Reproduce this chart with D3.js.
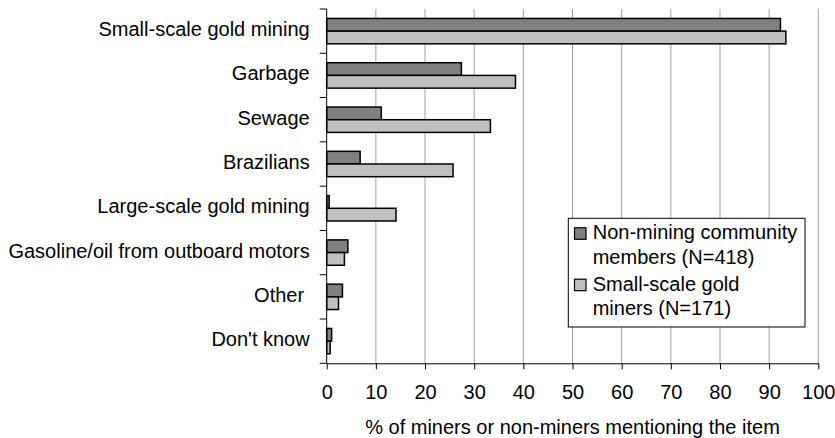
<!DOCTYPE html>
<html><head><meta charset="utf-8">
<script src="https://cdn.jsdelivr.net/npm/d3@7"></script>
<style>
body{margin:0;background:#fff;}
svg text{font-family:"Liberation Sans",Arial,sans-serif;fill:#000;}
</style></head>
<body>
<svg id="c" width="835" height="438"></svg>
<script>
const categories = ["Small-scale gold mining","Garbage","Sewage","Brazilians","Large-scale gold mining","Gasoline/oil from outboard motors","Other ","Don't know"];
const seriesNames = ["Non-mining community members (N=418)","Small-scale gold miners (N=171)"];
const legendLines = [["Non-mining community","members (N=418)"],["Small-scale gold","miners (N=171)"]];
const nonMiners = [92.3, 27.4, 11.1, 6.8, 0.5, 4.3, 3.2, 1.0];
const miners    = [93.4, 38.4, 33.3, 25.7, 14.1, 3.6, 2.4, 0.7];
const xTicks = [0,10,20,30,40,50,60,70,80,90,100];
const colors = ["#808080","#c0c0c0"];
const xTitle = "% of miners or non-miners mentioning the item";

const svg = d3.select("#c");
const L = 326.7, R = 818.3, T = 9, B = 363.3;
const x = d3.scaleLinear().domain([0,100]).range([L,R]);
const y = d3.scaleBand().domain(categories).range([T,B]).padding(0);
const yi = d3.scaleBand().domain([0,1]).range([0,y.bandwidth()]).paddingInner(0).paddingOuter(0.745);

// gridlines
svg.append("g").selectAll("line").data(xTicks.filter(d=>d>0)).join("line")
  .attr("x1",d=>x(d)).attr("x2",d=>x(d)).attr("y1",T).attr("y2",B)
  .attr("stroke","#a0a0a0").attr("stroke-width",1);

// bars
const g = svg.append("g");
categories.forEach((c,i)=>{
  [nonMiners[i], miners[i]].forEach((v,s)=>{
    g.append("rect")
      .attr("x",x(0)).attr("y",y(c)+yi(s))
      .attr("width",x(v)-x(0)).attr("height",yi.bandwidth())
      .attr("fill",colors[s]).attr("stroke","#000").attr("stroke-width",1.5);
  });
});

// y axis
svg.append("line").attr("x1",L).attr("x2",L).attr("y1",T).attr("y2",B).attr("stroke","#000").attr("stroke-width",1);
const yTickPos = categories.map(c=>y(c)).concat([B]);
svg.append("g").selectAll("line").data(yTickPos).join("line")
  .attr("x1",L-7).attr("x2",L).attr("y1",d=>d).attr("y2",d=>d).attr("stroke","#000");
svg.append("g").selectAll("text").data(categories).join("text")
  .attr("x",L-17).attr("y",c=>y(c)+y.bandwidth()/2).attr("dy","0.25em")
  .attr("text-anchor","end").style("white-space","pre").attr("font-size",20)
  .text(d=>d);

// x axis
const xa = svg.append("g").attr("transform",`translate(0,${B})`)
  .call(d3.axisBottom(x).tickValues(xTicks).tickSize(6).tickSizeOuter(0).tickPadding(15.5));
xa.select(".domain").attr("stroke","#000");
xa.selectAll(".tick line").attr("stroke","#000");
xa.selectAll(".tick text").attr("font-size",20).attr("font-family","Liberation Sans, Arial, sans-serif").attr("fill","#000");

svg.append("text").attr("x",(L+R)/2).attr("y",433.5)
  .attr("text-anchor","middle").attr("font-size",20).text(xTitle);

// legend
const lg = svg.append("g");
lg.append("rect").attr("x",568.3).attr("y",218.3).attr("width",236.7).attr("height",108.7)
  .attr("fill","#fff").attr("stroke","#000").attr("stroke-width",1);
legendLines.forEach((lines,s)=>{
  const by = 239.3 + s*51.4;
  lg.append("rect").attr("x",574.5).attr("y",by-11.5).attr("width",11.5).attr("height",11.5)
    .attr("fill",colors[s]).attr("stroke","#000").attr("stroke-width",1.2);
  lines.forEach((t,k)=>{
    lg.append("text").attr("x",592.7).attr("y",by+k*24.7).attr("font-size",20).text(t);
  });
});
</script>
</body></html>
